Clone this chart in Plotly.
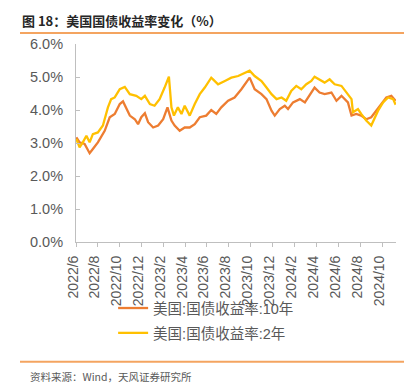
import plotly.graph_objects as go

# ---- data ----
dates_10y = [
    "2022-06-02", "2022-06-11", "2022-06-25", "2022-07-09", "2022-07-18", "2022-08-01",
    "2022-08-20", "2022-09-03", "2022-09-17", "2022-10-01", "2022-10-10", "2022-10-19",
    "2022-10-29", "2022-11-12", "2022-11-21", "2022-11-30", "2022-12-10", "2022-12-19",
    "2023-01-02", "2023-01-16", "2023-01-30", "2023-02-11", "2023-02-22", "2023-03-03",
    "2023-03-17", "2023-03-31", "2023-04-14", "2023-04-28", "2023-05-12", "2023-05-30",
    "2023-06-13", "2023-06-27", "2023-07-11", "2023-07-30", "2023-08-17", "2023-09-05",
    "2023-09-19", "2023-09-28", "2023-10-12", "2023-10-31", "2023-11-14", "2023-11-28",
    "2023-12-07", "2023-12-21", "2024-01-04", "2024-01-13", "2024-01-27", "2024-02-15",
    "2024-02-29", "2024-03-14", "2024-03-27", "2024-04-10", "2024-04-24", "2024-05-13",
    "2024-05-27", "2024-06-10", "2024-06-28", "2024-07-08", "2024-07-21", "2024-08-04",
    "2024-08-18", "2024-09-01", "2024-09-15", "2024-09-29", "2024-10-13", "2024-10-27",
    "2024-11-08",
]
yield_10y = [
    3.17, 3.02, 2.97, 2.69, 2.82, 3.02,
    3.37, 3.78, 3.88, 4.18, 4.26, 4.03,
    3.83, 3.72, 3.57, 3.78, 3.90, 3.63,
    3.47, 3.53, 3.72, 4.08, 3.68, 3.53,
    3.37, 3.47, 3.47, 3.57, 3.78, 3.83,
    4.00, 3.88, 4.08, 4.28, 4.38, 4.63,
    4.83, 4.98, 4.63, 4.48, 4.33, 3.98,
    3.83, 4.03, 4.13, 4.03, 4.23, 4.33,
    4.23, 4.48, 4.68, 4.53, 4.48, 4.53,
    4.28, 4.43, 4.23, 3.83, 3.88, 3.83,
    3.72, 3.78, 3.98, 4.18, 4.38, 4.43,
    4.28,
]

dates_2y = [
    "2022-06-02", "2022-06-11", "2022-06-20", "2022-06-30", "2022-07-09", "2022-07-18",
    "2022-08-01", "2022-08-15", "2022-08-29", "2022-09-07", "2022-09-17", "2022-10-01",
    "2022-10-15", "2022-10-29", "2022-11-16", "2022-11-30", "2022-12-10", "2022-12-24",
    "2023-01-06", "2023-01-20", "2023-02-03", "2023-02-15", "2023-02-22", "2023-03-01",
    "2023-03-12", "2023-03-22", "2023-03-31", "2023-04-14", "2023-04-28", "2023-05-12",
    "2023-05-26", "2023-06-13", "2023-06-18", "2023-07-02", "2023-07-21", "2023-08-08",
    "2023-08-27", "2023-09-14", "2023-09-28", "2023-10-12", "2023-10-31", "2023-11-14",
    "2023-11-28", "2023-12-12", "2023-12-26", "2024-01-08", "2024-01-22", "2024-02-05",
    "2024-02-19", "2024-03-04", "2024-03-18", "2024-03-27", "2024-04-10", "2024-04-24",
    "2024-05-08", "2024-05-22", "2024-06-10", "2024-06-28", "2024-07-08", "2024-07-12",
    "2024-07-26", "2024-08-04", "2024-08-18", "2024-09-01", "2024-09-11", "2024-09-20",
    "2024-10-04", "2024-10-18", "2024-11-01", "2024-11-08",
]
yield_2y = [
    3.12, 2.87, 3.02, 3.22, 3.02, 3.27,
    3.32, 3.53, 4.08, 4.33, 4.38, 4.63,
    4.70, 4.48, 4.43, 4.33, 4.43, 4.18,
    4.13, 4.33, 4.68, 5.01, 4.08, 3.83,
    4.08, 3.88, 4.13, 3.83, 4.18, 4.48,
    4.68, 4.98, 4.93, 4.78, 4.88, 4.98,
    5.03, 5.13, 5.19, 5.03, 4.88, 4.68,
    4.48, 4.33, 4.38, 4.28, 4.58, 4.73,
    4.63, 4.78, 4.88, 5.01, 4.93, 4.83,
    4.93, 4.78, 4.73, 4.48, 4.33, 3.93,
    4.03, 3.88, 3.68, 3.53, 3.78, 3.98,
    4.23, 4.38, 4.33, 4.16,
]

name_10y = "美国:国债收益率:10年"
name_2y = "美国:国债收益率:2年"
y_ticks = [0, 1, 2, 3, 4, 5, 6]
y_tick_text = ["0.0%", "1.0%", "2.0%", "3.0%", "4.0%", "5.0%", "6.0%"]
title_text = "<b>图 18：美国国债收益率变化（%）</b>"
source_text = "资料来源：Wind，天风证券研究所"

GRAY = "#595959"
AXIS = "#BFBFBF"
ACCENT = "#F4A460"
CJK = "Noto Sans CJK SC"
LAT = "Liberation Sans, Noto Sans CJK SC"

fig = go.Figure()
fig.add_trace(go.Scatter(x=dates_10y, y=yield_10y, mode="lines", name=name_10y,
                         line=dict(color="#ED7D31", width=2.3), legendgroup="a"))
fig.add_trace(go.Scatter(x=dates_2y, y=yield_2y, mode="lines", name=name_2y,
                         line=dict(color="#FFC000", width=2.3), legendgroup="b"))

fig.update_layout(
    width=412, height=384,
    margin=dict(l=68, r=24, t=36, b=150, autoexpand=False),
    paper_bgcolor="white", plot_bgcolor="white",
    showlegend=True,
    legend=dict(x=0.116, y=-0.253, xanchor="left", yanchor="top",
                font=dict(family=LAT, size=14.5, color=GRAY),
                tracegroupgap=3, bgcolor="rgba(0,0,0,0)"),
    xaxis=dict(type="date", range=["2022-06-01", "2024-11-09"],
               tick0="2022-06-01", dtick="M2", tickformat="%Y/%-m",
               tickangle=-90, showgrid=False, showline=True, linecolor=AXIS,
               linewidth=1, ticks="outside", ticklen=4, tickcolor=AXIS,
               ticklabelstandoff=3, ticklabelshift=-3,
               tickfont=dict(family=LAT, size=14, color=GRAY)),
    yaxis=dict(range=[0, 6], tickvals=y_ticks, ticktext=y_tick_text,
               showgrid=False, showline=True, linecolor=AXIS, linewidth=1,
               ticks="inside", ticklen=4, tickcolor=AXIS, zeroline=False,
               ticklabelstandoff=9,
               tickfont=dict(family=LAT, size=14.5, color=GRAY)),
    annotations=[
        dict(text=title_text, xref="paper", yref="paper",
             x=-0.175, y=1.121, xanchor="left", yanchor="middle", showarrow=False,
             font=dict(family=CJK, size=13, color="#262626")),
        dict(text=source_text, xref="paper", yref="paper",
             x=-0.15, y=-0.677, xanchor="left", yanchor="middle", showarrow=False,
             font=dict(family=CJK, size=10.5, color=GRAY)),
    ],
    shapes=[
        dict(type="line", xref="paper", yref="paper", x0=-0.175, x1=1.031,
             y0=1.056, y1=1.056, line=dict(color=ACCENT, width=2)),
        dict(type="line", xref="paper", yref="paper", x0=-0.175, x1=1.031,
             y0=-0.605, y1=-0.605, line=dict(color=ACCENT, width=2)),
    ],
)

fig.write_html("out.html")
